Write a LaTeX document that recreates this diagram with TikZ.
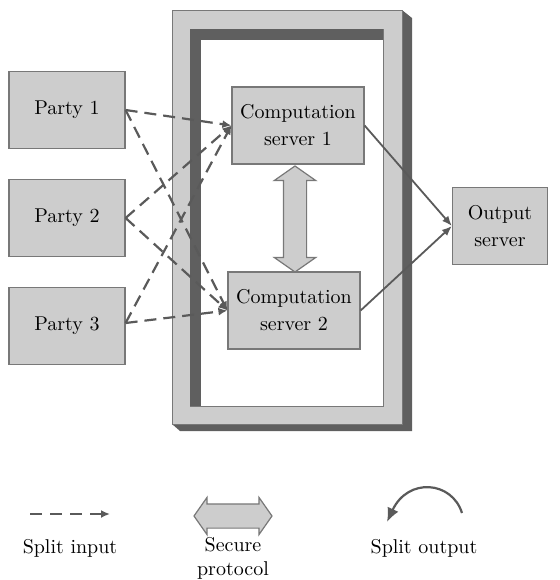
\documentclass[tikz,border=0pt]{standalone}
\usepackage{tikz}
\usetikzlibrary{positioning,arrows,arrows.meta,calc,shapes,shapes.arrows}
\definecolor{boxgray}{RGB}{205,205,205}
\definecolor{edgegray}{RGB}{120,120,120}
\definecolor{darkgray}{RGB}{95,95,95}
\definecolor{linegray}{RGB}{90,90,90}
\tikzset{
    x=0.5pt,
    y=-0.5pt,
    party/.style = {
        draw=edgegray,
        fill=boxgray,
        shape=rectangle,
        minimum height=38.5pt,
        minimum width=58pt,
        line width=0.6pt,
        align=center,
        font=\fontsize{10}{13.5}\selectfont
    },
    server/.style = {
        party,
        minimum width=66pt
    },
    protocol/.style = {
        draw=edgegray,
        fill=boxgray,
        shape=double arrow,
        double arrow head extend=4.5pt,
        double arrow tip angle=110,
        inner xsep=0pt,
        inner ysep=5.5pt,
        line width=0.6pt
    },
    split/.style = {
        draw=linegray,
        line width=1.1pt,
        dash pattern=on 6pt off 3.5pt,
        -{Latex[length=4.5pt,width=4pt]}
    },
    output/.style = {
        draw=linegray,
        line width=0.9pt,
        -{Latex[length=5pt,width=4pt]}
    },
    legend/.style = {
        font=\fontsize{10}{12}\selectfont,
        align=center
    },
    >=latex',
}
\begin{document}
\begin{tikzpicture}

    \useasboundingbox (0,0) rectangle (560,580);

    % frame
    \fill[darkgray] (402,10) -- (412,18) -- (412,431) -- (180,431) -- (172,424) -- (402,424) -- cycle;
    \path[draw=edgegray, fill=boxgray, line width=0.5pt] (172,10) rectangle (402,424);
    \path[draw=edgegray, fill=white, line width=0.5pt] (190,29) rectangle (383,406);
    \fill[darkgray] (190,29) rectangle (383,40);
    \fill[darkgray] (190,29) rectangle (201,406);

    \node[party] (party1) at (67,110) {Party 1};
    \node[party] (party2) at (67,218) {Party 2};
    \node[party] (party3) at (67,326) {Party 3};

    \node[server] (comp1) at (298,125.5) {Computation\\server 1};
    \node[server] (comp2) at (294,310.5) {Computation\\server 2};

    \node[party, minimum width=47.5pt] (out) at (500,226) {Output\\server};

    \node[protocol, minimum height=53pt, inner xsep=5.5pt, inner ysep=0pt, shape border rotate=90] (proto) at (295,219) {};

    \path[split] (party1.east) -- (comp1.west);
    \path[split] (party1.east) -- (comp2.west);
    \path[split] (party2.east) -- (comp1.west);
    \path[split] (party2.east) -- (comp2.west);
    \path[split] ([yshift=1.5pt]party3.east) -- (comp1.west);
    \path[split] ([yshift=1.5pt]party3.east) -- (comp2.west);

    \path[output] (comp1.east) -- (out.west);
    \path[output] (comp2.east) -- (out.west);

    % legend
    \coordinate (split_a) at (30,514);
    \coordinate (split_b) at (110,514);
    \path[split, dash pattern=on 6pt off 4pt] (split_a) -- (split_b);
    \node[legend] at (70,548) {Split input};

    \node[protocol, minimum height=39pt, inner ysep=5.75pt, double arrow head extend=3.25pt] (proto_key) at (233,516) {};
    \node[legend] (proto_text) at (233,558) {Secure\\protocol};

    \coordinate (out_a) at (462,513);
    \coordinate (out_b) at (387,522);
    \path[output, line width=1.1pt, -{Latex[length=7pt,width=6pt]}] (out_a) .. controls (452,481) and (408,477) .. (out_b);
    \node[legend] at (424,548) {Split output};

\end{tikzpicture}
\end{document}
